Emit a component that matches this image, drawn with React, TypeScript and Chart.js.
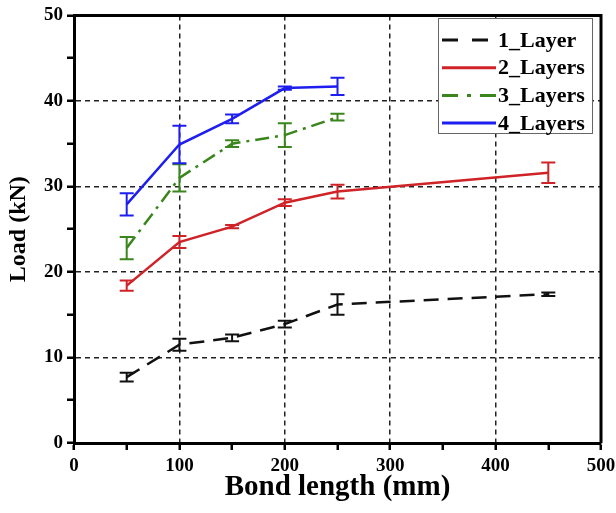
import React, { useEffect, useRef } from "react";
import { Chart, registerables } from "chart.js";

Chart.register(...registerables);

const seriesLabels = ["1_Layer", "2_Layers", "3_Layers", "4_Layers"];
const bondLength1 = [50, 100, 150, 200, 250, 450];
const load1 = [7.7, 11.5, 12.3, 13.9, 16.2, 17.4];
const err1 = [0.5, 0.7, 0.4, 0.4, 1.2, 0.2];
const bondLength2 = [50, 100, 150, 200, 250, 450];
const load2 = [18.4, 23.5, 25.3, 28.1, 29.4, 31.6];
const err2 = [0.6, 0.7, 0.2, 0.4, 0.8, 1.2];
const bondLength3 = [50, 100, 150, 200, 250];
const load3 = [22.8, 31.0, 35.0, 36.0, 38.1];
const err3 = [1.3, 1.6, 0.4, 1.4, 0.4];
const bondLength4 = [50, 100, 150, 200, 250];
const load4 = [27.9, 34.9, 37.9, 41.5, 41.7];
const err4 = [1.3, 2.2, 0.5, 0.2, 1.0];

const colors = ["#111111", "#cf2328", "#3a861c", "#1e1ef0"];
const dashes = [[15, 9], [], [14, 6, 3, 6], []];
const legendDashes = [[16, 14], [], [16, 9, 4, 9], []];

const xsAll = [bondLength1, bondLength2, bondLength3, bondLength4];
const ysAll = [load1, load2, load3, load4];
const errAll = [err1, err2, err3, err4];

const FONT = "'Liberation Serif', 'Times New Roman', serif";

const errorBarPlugin = {
  id: "errorBars",
  afterDatasetsDraw(chart: any) {
    const ctx = chart.ctx;
    const xs = chart.scales.x;
    const ys = chart.scales.y;
    ctx.save();
    errAll.forEach((errs, i) => {
      ctx.strokeStyle = colors[i];
      ctx.lineWidth = 2;
      ctx.setLineDash([]);
      errs.forEach((e, j) => {
        const px = xs.getPixelForValue(xsAll[i][j]);
        const top = ys.getPixelForValue(ysAll[i][j] + e);
        const bot = ys.getPixelForValue(ysAll[i][j] - e);
        ctx.beginPath();
        ctx.moveTo(px, top);
        ctx.lineTo(px, bot);
        ctx.moveTo(px - 7, top);
        ctx.lineTo(px + 7, top);
        ctx.moveTo(px - 7, bot);
        ctx.lineTo(px + 7, bot);
        ctx.stroke();
      });
    });
    ctx.restore();
  },
};

const framePlugin = {
  id: "frameAndLegend",
  afterDraw(chart: any) {
    const ctx = chart.ctx;
    const a = chart.chartArea;
    ctx.save();
    ctx.strokeStyle = "#000";
    ctx.lineWidth = 3;
    ctx.setLineDash([]);
    ctx.beginPath();
    ctx.moveTo(a.left, a.top);
    ctx.lineTo(a.right, a.top);
    ctx.lineTo(a.right, a.bottom);
    ctx.stroke();

    // legend
    const lx = 438, ly = 18, lw = 154, lh = 115;
    ctx.fillStyle = "#fff";
    ctx.fillRect(lx, ly, lw, lh);
    ctx.strokeStyle = "#666";
    ctx.lineWidth = 1;
    ctx.strokeRect(lx + 0.5, ly + 0.5, lw, lh);
    ctx.font = `bold 22px ${FONT}`;
    ctx.textBaseline = "middle";
    ctx.textAlign = "left";
    chart.data.datasets.forEach((ds: any, i: number) => {
      const cy = ly + 22 + i * 27.7;
      ctx.strokeStyle = colors[i];
      ctx.lineWidth = 3;
      ctx.setLineDash(legendDashes[i]);
      ctx.beginPath();
      ctx.moveTo(442, cy);
      ctx.lineTo(496, cy);
      ctx.stroke();
      ctx.fillStyle = "#000";
      ctx.fillText(ds.label, 498, cy + 1);
    });
    ctx.restore();
  },
};

export default function App() {
  const ref = useRef<HTMLCanvasElement>(null);
  useEffect(() => {
    document.body.style.margin = "0";
    const datasets = seriesLabels.map((label, i) => ({
      label,
      data: xsAll[i].map((x, j) => ({ x, y: ysAll[i][j] })),
      borderColor: colors[i],
      backgroundColor: colors[i],
      borderWidth: 2.5,
      borderDash: dashes[i],
      pointRadius: 0,
      tension: 0,
      fill: false,
    }));
    const gridColor = (major: number, min: number, max: number) => (c: any) => {
      const v = c.tick?.value;
      if (v === undefined) return "transparent";
      if (v === min || v === max) return "transparent";
      return v % major === 0 ? "#222" : "transparent";
    };
    const chart = new Chart(ref.current!, {
      type: "line",
      data: { datasets },
      options: {
        animation: false,
        responsive: false,
        layout: { padding: { top: 15, right: 0, left: 4, bottom: 4 } },
        plugins: { legend: { display: false }, tooltip: { enabled: false } },
        scales: {
          x: {
            type: "linear",
            min: 0,
            max: 500,
            ticks: {
              stepSize: 50,
              autoSkip: false,
              maxRotation: 0,
              color: "#000",
              font: { family: FONT, size: 19, weight: "bold" },
              callback: (v: any) => (v % 100 === 0 ? String(v) : ""),
              padding: 5,
            },
            grid: {
              color: gridColor(100, 0, 500),
              lineWidth: 1.5,
              tickColor: "#000",
              tickWidth: 2.5,
              tickLength: 7,
              tickBorderDash: [],
            },
            border: { display: true, color: "#000", width: 3, dash: [5, 4] },
            title: {
              display: true,
              text: "Bond length (mm)",
              color: "#000",
              font: { family: FONT, size: 29, weight: "bold" },
              padding: { top: 0, bottom: 4 },
            },
            afterFit: (s: any) => {
              s.height = 66;
              s.paddingRight = 15;
              s.paddingLeft = 0;
            },
          },
          y: {
            type: "linear",
            min: 0,
            max: 50,
            ticks: {
              stepSize: 5,
              autoSkip: false,
              color: "#000",
              font: { family: FONT, size: 19, weight: "bold" },
              callback: (v: any) => (v % 10 === 0 ? String(v) : ""),
              padding: 4,
            },
            grid: {
              color: gridColor(10, 0, 50),
              lineWidth: 1.5,
              tickColor: "#000",
              tickWidth: 2.5,
              tickLength: 7,
              tickBorderDash: [],
            },
            border: { display: true, color: "#000", width: 3, dash: [5, 4] },
            title: {
              display: true,
              text: "Load (kN)",
              color: "#000",
              font: { family: FONT, size: 24, weight: "bold" },
              padding: { top: 0, bottom: 2 },
            },
            afterFit: (s: any) => {
              s.width = 70;
            },
          },
        },
      } as any,
      plugins: [errorBarPlugin, framePlugin],
    });
    return () => chart.destroy();
  }, []);
  return (
    <div style={{ width: 616, height: 513, background: "#fff" }}>
      <canvas ref={ref} width={616} height={513} />
    </div>
  );
}
